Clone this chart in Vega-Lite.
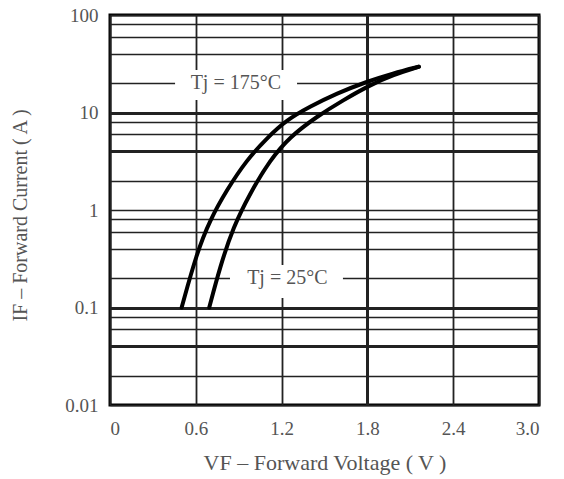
{
  "$schema": "https://vega.github.io/schema/vega-lite/v6.json",
  "width": 429,
  "height": 390,
  "autosize": "none",
  "padding": {"left": 110, "top": 15, "right": 25, "bottom": 74},
  "background": "white",
  "config": {
    "view": {"stroke": "black", "strokeWidth": 3},
    "font": "Liberation Serif"
  },
  "datasets": {
    "curves": [
      {"Tj": "175", "V": 0.501, "I": 0.1},
      {"Tj": "175", "V": 0.606, "I": 0.36},
      {"Tj": "175", "V": 0.699, "I": 0.79},
      {"Tj": "175", "V": 0.816, "I": 1.6},
      {"Tj": "175", "V": 0.956, "I": 3.26},
      {"Tj": "175", "V": 1.096, "I": 5.44},
      {"Tj": "175", "V": 1.236, "I": 8.4},
      {"Tj": "175", "V": 1.399, "I": 11.5},
      {"Tj": "175", "V": 1.585, "I": 15.7},
      {"Tj": "175", "V": 1.795, "I": 20.7},
      {"Tj": "175", "V": 1.979, "I": 25.2},
      {"Tj": "175", "V": 2.16, "I": 29.5},
      {"Tj": "25", "V": 0.694, "I": 0.1},
      {"Tj": "25", "V": 0.769, "I": 0.26},
      {"Tj": "25", "V": 0.862, "I": 0.67},
      {"Tj": "25", "V": 0.979, "I": 1.48},
      {"Tj": "25", "V": 1.119, "I": 3.26},
      {"Tj": "25", "V": 1.259, "I": 5.65},
      {"Tj": "25", "V": 1.445, "I": 9.06},
      {"Tj": "25", "V": 1.631, "I": 13.4},
      {"Tj": "25", "V": 1.818, "I": 19.1},
      {"Tj": "25", "V": 1.981, "I": 24.3},
      {"Tj": "25", "V": 2.16, "I": 29.5}
    ],
    "labels": [
      {"text": "Tj = 175°C", "V": 0.88, "I": 20, "V1": 0.455, "V2": 1.308, "I1": 13.4, "I2": 27.3},
      {"text": "Tj = 25°C", "V": 1.24, "I": 0.2, "V1": 0.839, "V2": 1.629, "I1": 0.125, "I2": 0.273}
    ]
  },
  "layer": [
    {
      "data": {"name": "labels"},
      "mark": {"type": "rect", "fill": "white", "stroke": null},
      "encoding": {
        "x": {"field": "V1", "type": "quantitative", "scale": {"domain": [0, 3], "nice": false}},
        "x2": {"field": "V2"},
        "y": {"field": "I1", "type": "quantitative", "scale": {"type": "log", "domain": [0.01, 100]}},
        "y2": {"field": "I2"}
      }
    },
    {
      "data": {"name": "curves"},
      "mark": {"type": "line", "color": "black", "strokeWidth": 4, "interpolate": "basis", "strokeCap": "round"},
      "encoding": {
        "x": {
          "field": "V", "type": "quantitative",
          "scale": {"domain": [0, 3], "nice": false},
          "axis": {
            "values": [0, 0.6, 1.2, 1.8, 2.4, 3.0],
            "labelExpr": "datum.value == 0 ? '0' : format(datum.value, '.1f')",
            "ticks": false, "domain": false,
            "grid": true, "gridColor": "#222",
            "gridWidth": {"condition": {"test": "abs(datum.value - 1.8) < 0.01", "value": 3}, "value": 1.8},
            "labelFont": "Liberation Serif", "labelFontSize": 19, "labelColor": "#555",
            "labelPadding": 14,
            "title": "VF – Forward Voltage ( V )",
            "titleFont": "Liberation Serif", "titleFontSize": 22, "titleFontWeight": "normal", "titleColor": "#555",
            "titleY": 57, "titleBaseline": "middle"
          }
        },
        "y": {
          "field": "I", "type": "quantitative",
          "scale": {"type": "log", "domain": [0.01, 100]},
          "axis": {
            "values": [0.01, 0.02, 0.04, 0.06, 0.08, 0.1, 0.2, 0.4, 0.6, 0.8, 1, 2, 4, 6, 8, 10, 20, 40, 60, 80, 100],
            "labelExpr": "abs(log(datum.value)/LN10 - round(log(datum.value)/LN10)) < 0.001 ? format(datum.value, '~g') : ''",
            "ticks": false, "domain": false,
            "grid": true, "gridColor": "#222",
            "gridWidth": {"condition": {"test": "abs(datum.value - 10) < 0.01 || abs(datum.value - 0.1) < 0.001 || abs(datum.value - 4) < 0.01 || abs(datum.value - 0.04) < 0.0001", "value": 2.8}, "value": 1.6},
            "labelFont": "Liberation Serif", "labelFontSize": 19, "labelColor": "#555",
            "labelPadding": 12,
            "title": "IF – Forward Current ( A )",
            "titleFont": "Liberation Serif", "titleFontSize": 20, "titleFontWeight": "normal", "titleColor": "#555",
            "titleX": -90, "titleY": 200, "titleAlign": "center", "titleBaseline": "middle", "titleAngle": -90
          }
        },
        "detail": {"field": "Tj", "type": "nominal"}
      }
    },
    {
      "data": {"name": "labels"},
      "mark": {"type": "text", "font": "Liberation Serif", "fontSize": 20, "color": "#555", "align": "center", "baseline": "middle"},
      "encoding": {
        "x": {"field": "V", "type": "quantitative"},
        "y": {"field": "I", "type": "quantitative"},
        "text": {"field": "text"}
      }
    }
  ]
}
